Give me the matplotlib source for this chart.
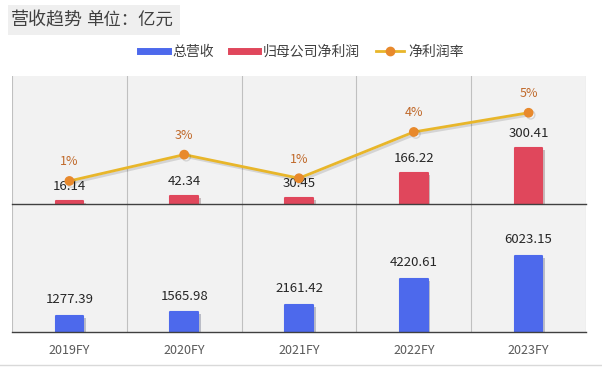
import matplotlib
matplotlib.use('Agg')
from matplotlib import pyplot as plt
from matplotlib.patches import Rectangle
from matplotlib.lines import Line2D
import matplotlib.patheffects as pe

plt.rcParams['font.family'] = ['Noto Sans CJK SC', 'DejaVu Sans']

# data
years = ['2019FY', '2020FY', '2021FY', '2022FY', '2023FY']
revenue = [1277.39, 1565.98, 2161.42, 4220.61, 6023.15]
net_profit = [16.14, 42.34, 30.45, 166.22, 300.41]
net_margin = [0.0126, 0.0270, 0.0141, 0.0394, 0.0499]

blue = '#4d69ec'
red = '#e0475c'
gold = '#e8b62a'
orange = '#e8892c'

fig = plt.figure(figsize=(6.02, 3.68), dpi=100)
W, H = 602, 368

def fx(px):
    return px / W

def fy(py):
    return 1 - py / H

shadow = [pe.SimplePatchShadow(offset=(2, -1.5), alpha=0.25), pe.Normal()]

# title box
fig.patches.append(Rectangle((fx(8), fy(35)), fx(172), 30 / H, transform=fig.transFigure,
                             facecolor='#efefef', edgecolor='none', zorder=0))
fig.text(fx(11), fy(20), '营收趋势', fontsize=13, color='#404040', va='center', ha='left')
fig.text(fx(86), fy(21), '单位：亿元', fontsize=12.5, color='#404040', va='center', ha='left',
         fontweight='medium')

x = range(len(years))
left, width = fx(12), fx(574)
ax_bot = fig.add_axes([left, fy(332), width, 128 / H])
ax_top = fig.add_axes([left, fy(204), width, 128 / H])

for ax in (ax_top, ax_bot):
    ax.set_facecolor('#f2f2f2')
    ax.set_xlim(-0.5, len(years) - 0.5)
    for s in ax.spines.values():
        s.set_visible(False)
    for b in range(len(years) + 1):
        ax.axvline(b - 0.5, color='#c0c0c0', lw=0.8, zorder=1)
    ax.axhline(0, color='#404040', lw=1.0, zorder=4, clip_on=False)
    ax.set_yticks([])
    ax.tick_params(axis='x', length=0)

# top panel: net profit bars + margin line
ax_top.set_ylim(0, 686)
bars = ax_top.bar(x, net_profit, width=0.24, color=red, edgecolor=red, linewidth=1.5,
                  joinstyle='round', zorder=3)
for b in bars:
    b.set_path_effects(shadow)
for i, v in enumerate(net_profit):
    ax_top.annotate(f'{v:.2f}', (i, v), xytext=(0, 6), textcoords='offset points',
                    ha='center', va='bottom', fontsize=9.5, color='#262626', zorder=6)
ax_top.set_xticks([])

ax_line = ax_top.twinx()
ax_line.set_ylim(0, 0.07)
ax_line.set_yticks([])
ax_line.tick_params(length=0)
for s in ax_line.spines.values():
    s.set_visible(False)
ax_line.plot(x, net_margin, color=gold, lw=2, marker='o', markersize=6,
             markerfacecolor=orange, markeredgecolor=orange, zorder=5,
             path_effects=[pe.SimpleLineShadow(offset=(1.5, -1.5), alpha=0.12), pe.Normal()])
for i, v in enumerate(net_margin):
    ax_line.annotate(f'{v:.0%}', (i, v), xytext=(0, 9), textcoords='offset points',
                     ha='center', va='bottom', fontsize=9, color='#c0692a')

# bottom panel: revenue bars
ax_bot.set_ylim(0, 10150)
bars = ax_bot.bar(x, revenue, width=0.24, color=blue, edgecolor=blue, linewidth=1.5,
                  joinstyle='round', zorder=3)
for b in bars:
    b.set_path_effects(shadow)
for i, v in enumerate(revenue):
    ax_bot.annotate(f'{v:.2f}', (i, v), xytext=(0, 7), textcoords='offset points',
                    ha='center', va='bottom', fontsize=9.5, color='#262626')
ax_bot.set_xticks(list(x))
ax_bot.set_xticklabels(years, fontsize=9, color='#595959')
ax_bot.tick_params(axis='x', pad=9)

# legend
handles = [Line2D([], [], color=blue, lw=5),
           Line2D([], [], color=red, lw=5),
           Line2D([], [], color=gold, lw=2, marker='o', markersize=6,
                  markerfacecolor=orange, markeredgecolor=orange)]
fig.legend(handles, ['总营收', '归母公司净利润', '净利润率'], loc='center',
           bbox_to_anchor=(fx(302), fy(52)), ncol=3, frameon=False, fontsize=10,
           handlelength=2.0, handletextpad=0.3, columnspacing=1.2, labelcolor='#404040')

# bottom separator
fig.add_artist(Line2D([0, 1], [fy(365), fy(365)], color='#d9d9d9', lw=1,
                      transform=fig.transFigure))

fig.savefig('out.png', dpi=100)
